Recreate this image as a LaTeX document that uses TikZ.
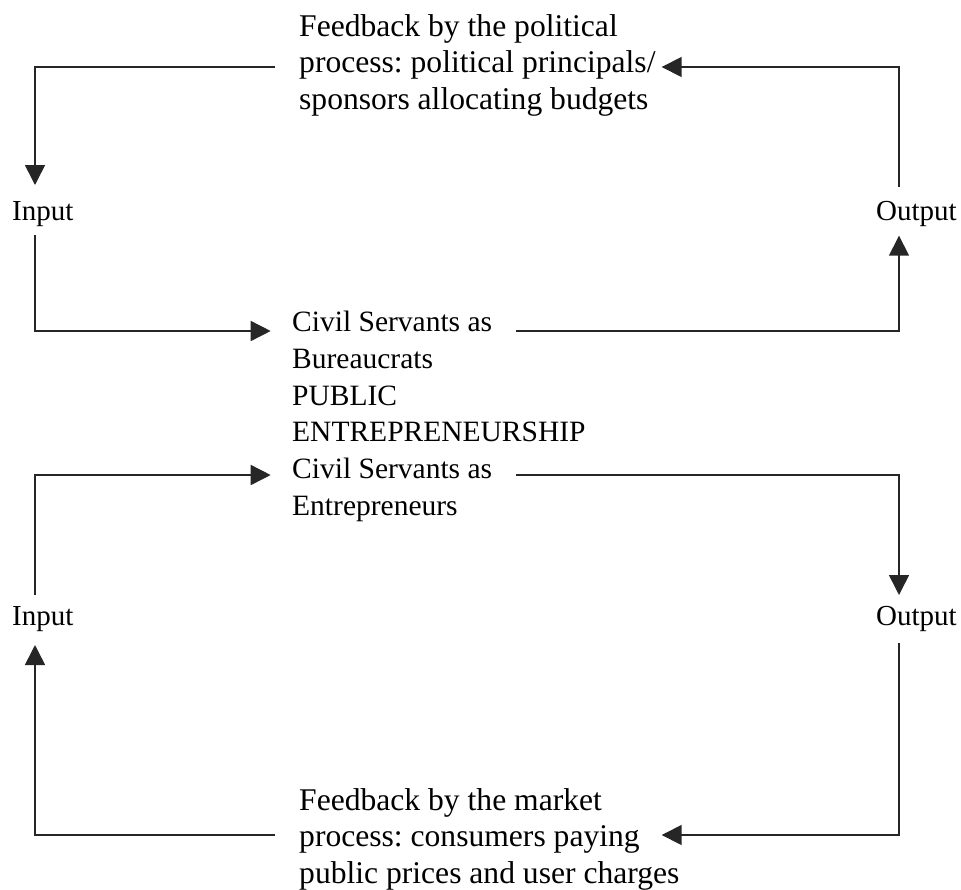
\documentclass[tikz,border=0pt]{standalone}
\usepackage{fontspec}
\setmainfont{Liberation Serif}
\usetikzlibrary{arrows.meta}
\frenchspacing
\begin{document}
\begin{tikzpicture}[x=1pt,y=-1pt,
  txt/.style={anchor=base west,inner sep=0pt,font=\frenchspacing\fontsize{29}{36.8}\selectfont},
  midtxt/.style={txt,font=\frenchspacing\fontsize{29.5}{36.8}\selectfont},
  fbtxt/.style={txt,font=\frenchspacing\fontsize{31.6}{36.7}\selectfont},
  conn/.style={line width=1.6pt,draw=black!85},
  arr/.style={conn,-{Triangle[length=20pt,width=20pt]}}]
\useasboundingbox (0,0) rectangle (961,889);
% text nodes
\node[fbtxt] (fbTop) at (299,36) {\begin{tabular}[t]{@{}l@{}}Feedback by the political\\process: political principals/\\sponsors allocating budgets\end{tabular}};
\node[txt] (inTop) at (12,220) {Input};
\node[txt] (outTop) at (876,220) {Output};
\node[midtxt] (mid) at (292,331.5) {\begin{tabular}[t]{@{}l@{}}Civil Servants as\\Bureaucrats\\PUBLIC\\ENTREPRENEURSHIP\\Civil Servants as\\Entrepreneurs\end{tabular}};
\node[txt] (inBot) at (12,625) {Input};
\node[txt] (outBot) at (876,625) {Output};
\node[fbtxt] (fbBot) at (299,810) {\begin{tabular}[t]{@{}l@{}}Feedback by the market\\process: consumers paying\\public prices and user charges\end{tabular}};
% connector end points
\coordinate (fbTopL) at (275,67);
\coordinate (fbTopR) at (661.7,67);
\coordinate (inTopN) at (35,185);
\coordinate (inTopS) at (35,235);
\coordinate (outTopN) at (899,186.7);
\coordinate (outTopS) at (899,235.7);
\coordinate (midInA) at (270.7,331);
\coordinate (midOutA) at (515.7,331);
\coordinate (midInB) at (270.7,475);
\coordinate (midOutB) at (515.7,475);
\coordinate (inBotN) at (35,595);
\coordinate (inBotS) at (35,645);
\coordinate (outBotN) at (899,595);
\coordinate (outBotS) at (899,643);
\coordinate (fbBotL) at (275,835);
\coordinate (fbBotR) at (661.7,835);
% top loop
\draw[arr] (fbTopL) -| (inTopN);
\draw[arr] (inTopS) |- (midInA);
\draw[arr] (midOutA) -| (outTopS);
\draw[arr] (outTopN) |- (fbTopR);
% bottom loop
\draw[arr] (inBotN) |- (midInB);
\draw[arr] (midOutB) -| (outBotN);
\draw[arr] (outBotS) |- (fbBotR);
\draw[arr] (fbBotL) -| (inBotS);
\end{tikzpicture}
\end{document}
